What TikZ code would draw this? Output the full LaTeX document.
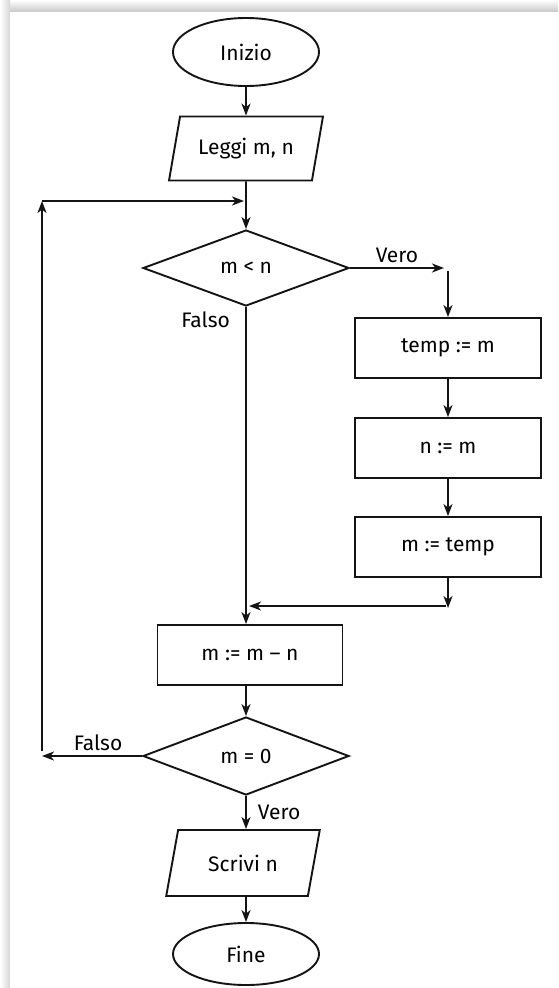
\documentclass[tikz,border=0pt]{standalone}
\usepackage{fontspec}
\setmainfont{Fira Sans}[Numbers=Lining]
\usetikzlibrary{shapes.geometric,arrows.meta}
\begin{document}
\begin{tikzpicture}[x=1pt,y=-1pt,
  every node/.style={font=\fontsize{21}{24}\selectfont, text=black},
  shp/.style={draw=black!92, line width=1.9pt, inner sep=0pt},
  box/.style={shp, rectangle, minimum width=186pt, minimum height=60pt},
  term/.style={shp, ellipse, minimum width=146pt, minimum height=68pt},
  dec/.style={shp, diamond, aspect=2.7, minimum width=206pt, minimum height=76pt},
  io/.style={shp, trapezium, trapezium left angle=69, trapezium right angle=111,
             trapezium stretches=true, minimum width=154pt, minimum height=64pt},
  arr/.style={draw=black!92, line width=1.9pt, -{Stealth[length=12pt,width=9pt,inset=3.5pt]}},
  lbl/.style={inner sep=1pt}
]
\useasboundingbox (0,0) rectangle (558,988);
% page with shadow
\shade[top color=white, bottom color=black!22] (0,0) rectangle (558,12);
\shade[left color=white, right color=black!16] (0,0) rectangle (10,988);
\fill[white] (10,12) rectangle (558,988);

% nodes
\node[term] (inizio) at (246,52) {Inizio};
\node[io] (leggi) at (246,148.5) {Leggi m, n};
\node[dec] (mlt) at (246,268) {m < n};
\node[box] (temp) at (448,348) {temp := m};
\node[box] (nm) at (448,448) {n := m};
\node[box] (mtemp) at (448,547) {m := temp};
\node[box, minimum width=185pt] (mmn) at (250,655) {m := m -- n};
\node[dec, minimum height=78pt] (m0) at (246,756) {m = 0};
\node[io, minimum height=66pt] (scrivi) at (243,863) {Scrivi n};
\node[term, minimum height=62pt] (fine) at (246,954) {Fine};

% coordinates for connectors
\coordinate (vr) at (444,268);
\coordinate (vr1) at (448,271);
\coordinate (jr) at (448,608);
\coordinate (jr2) at (446,606);
\coordinate (j2) at (249,606);
\coordinate (lf) at (42,756);
\coordinate (c2) at (42,751);
\coordinate (c1) at (42,201);
\coordinate (j1) at (244,201);

% connectors
\draw[arr] (inizio) -- (leggi);
\draw[arr] (leggi) -- (mlt);
\draw[arr] (mlt.east) -- (vr) node[midway, above=3pt, lbl] {Vero};
\draw[arr] (vr1) -- (temp);
\draw[arr] (temp) -- (nm);
\draw[arr] (nm) -- (mtemp);
\draw[arr] (mtemp) -- (jr);
\draw[arr] (jr2) -- (j2);
\draw[arr] (mlt.south) -- (mlt.south |- mmn.north);
\node[lbl, anchor=east] (falso1) at (231,320) {Falso};
\draw[arr] (mmn.south -| m0.north) -- (m0.north);
\draw[arr] (m0.west) -- (lf) node[pos=0.44, above=3pt, lbl] {Falso};
\draw[arr] (c2) -- (c1);
\draw[arr] (c1) -- (j1);
\draw[arr] (m0.south) -- (m0.south |- scrivi.north) node[midway, right=10pt, lbl] {Vero};
\draw[arr] (scrivi.south -| fine.north) -- (fine.north);
\end{tikzpicture}
\end{document}
